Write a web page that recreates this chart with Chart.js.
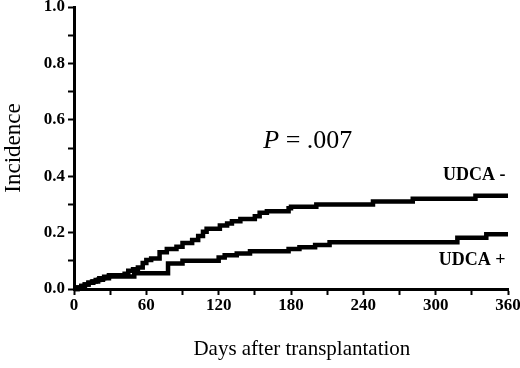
<!DOCTYPE html>
<html>
<head>
<meta charset="utf-8">
<script src="https://cdn.jsdelivr.net/npm/chart.js@4"></script>
<style>
body { margin: 0; background: #fff; }
</style>
</head>
<body>
<canvas id="myChart" width="520" height="368"></canvas>
<script>
// step points (day, cumulative incidence)
const minusDays   = [0, 3, 6, 9, 12, 15, 18, 21, 25, 29, 42, 45, 49, 53, 57, 60, 64, 71, 77, 85, 90, 98, 103, 107, 110, 121, 127, 131, 138, 150, 154, 160, 178, 180, 201, 248, 281, 333, 360];
const minusValues = [0, 0.005, 0.011, 0.016, 0.022, 0.027, 0.032, 0.038, 0.043, 0.049, 0.054, 0.065, 0.07, 0.076, 0.092, 0.103, 0.108, 0.13, 0.142, 0.15, 0.163, 0.174, 0.188, 0.203, 0.214, 0.225, 0.232, 0.24, 0.248, 0.258, 0.27, 0.276, 0.286, 0.292, 0.3, 0.31, 0.32, 0.331, 0.331];

const plusDays   = [0, 3, 6, 9, 12, 16, 20, 24, 29, 50, 78, 90, 120, 125, 135, 146, 178, 187, 200, 212, 318, 342, 360];
const plusValues = [0, 0.005, 0.011, 0.016, 0.022, 0.027, 0.033, 0.038, 0.044, 0.056, 0.09, 0.1, 0.112, 0.12, 0.126, 0.134, 0.142, 0.148, 0.156, 0.166, 0.182, 0.194, 0.194];

const seriesNames = ['UDCA -', 'UDCA +'];
const pValueText = '.007';
const xTitle = 'Days after transplantation';

function toPoints(days, values) {
  return days.map((d, i) => ({ x: d, y: values[i] }));
}

const serif = 'Liberation Serif, Times New Roman, serif';

// text inside the plot + x title, placed through the scales
const labelsPlugin = {
  id: 'labels',
  afterDatasetsDraw(chart) {
    const ctx = chart.ctx;
    const x = chart.scales.x;
    const y = chart.scales.y;
    ctx.save();
    ctx.fillStyle = '#000';
    ctx.textBaseline = 'middle';
    ctx.textAlign = 'right';
    ctx.font = 'bold 18px ' + serif;
    ctx.fillText(seriesNames[0], x.getPixelForValue(358), y.getPixelForValue(0.404));
    ctx.fillText(seriesNames[1], x.getPixelForValue(358), y.getPixelForValue(0.1));

    ctx.textBaseline = 'alphabetic';
    ctx.textAlign = 'left';
    let px = x.getPixelForValue(157);
    const py = y.getPixelForValue(0.5);
    ctx.font = 'italic 26px ' + serif;
    ctx.fillText('P', px, py);
    px += ctx.measureText('P').width;
    ctx.font = '26px ' + serif;
    ctx.fillText(' = ' + pValueText, px, py);

    ctx.textAlign = 'center';
    ctx.font = '21px ' + serif;
    ctx.fillText(xTitle, x.getPixelForValue(189), x.bottom - 13);
    ctx.restore();
  }
};

const tickGrid = {
  drawOnChartArea: false,
  drawTicks: true,
  tickLength: 6,
  tickWidth: 2,
  tickColor: '#000'
};

let myChart = document.getElementById('myChart');

new Chart(myChart, {
  type: 'line',
  data: {
    datasets: [{
      label: seriesNames[0],
      data: toPoints(minusDays, minusValues),
      stepped: true,
      borderColor: '#000',
      borderWidth: 4.5,
      pointRadius: 0,
      clip: 6
    }, {
      label: seriesNames[1],
      data: toPoints(plusDays, plusValues),
      stepped: true,
      borderColor: '#000',
      borderWidth: 4.5,
      pointRadius: 0,
      clip: 6
    }]
  },
  options: {
    responsive: false,
    animation: false,
    devicePixelRatio: 1,
    layout: { padding: { top: 7, right: 12, left: 0, bottom: 0 } },
    plugins: {
      legend: { display: false },
      tooltip: { enabled: false }
    },
    scales: {
      x: {
        type: 'linear',
        min: 0,
        max: 360,
        grid: tickGrid,
        border: { color: '#000', width: 3 },
        ticks: {
          stepSize: 30,
          padding: 0,
          color: '#000',
          maxRotation: 0,
          autoSkip: false,
          font: { family: serif, size: 17, weight: 'bold' },
          callback: v => (v % 60 === 0 ? v : '')
        },
        afterFit(scale) {
          scale.height = 79;
          scale.paddingLeft = 0;
          scale.paddingRight = 0;
        }
      },
      y: {
        min: 0,
        max: 1,
        grid: tickGrid,
        border: { color: '#000', width: 3 },
        ticks: {
          stepSize: 0.1,
          padding: 3,
          color: '#000',
          autoSkip: false,
          font: { family: serif, size: 17, weight: 'bold' },
          callback: v => (Math.round(v * 10) % 2 === 0 ? v.toFixed(1) : '')
        },
        title: {
          display: true,
          text: 'Incidence',
          color: '#000',
          font: { family: serif, size: 23 },
          padding: { top: 0, bottom: 0 }
        },
        afterFit(scale) {
          scale.width = 74;
          scale.paddingTop = 0;
          scale.paddingBottom = 0;
        }
      }
    }
  },
  plugins: [labelsPlugin]
});
</script>
</body>
</html>
